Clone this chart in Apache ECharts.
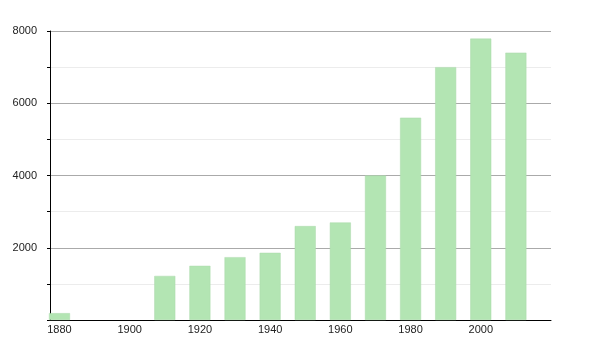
<!DOCTYPE html>
<html><head><meta charset="utf-8">
<script src="https://cdn.jsdelivr.net/npm/echarts@6/dist/echarts.min.js"></script>
<style>html,body{margin:0;padding:0;background:#fff}#c{width:600px;height:350px}</style>
</head><body><div id="c"></div>
<script>
var years = [1880, 1910, 1920, 1930, 1940, 1950, 1960, 1970, 1980, 1990, 2000, 2010];
var population = [190, 1220, 1500, 1740, 1860, 2600, 2700, 4000, 5600, 7000, 7790, 7400];
var xTickLabels = [1880, 1900, 1920, 1940, 1960, 1980, 2000];
var yTickLabels = [2000, 4000, 6000, 8000];

var chart = echarts.init(document.getElementById('c'), null, {renderer: 'canvas'});
chart.setOption({
  animation: false,
  grid: {left: 50, right: 49, top: 31, bottom: 30, containLabel: false},
  xAxis: {
    type: 'value', min: 1877.3, max: 2020,
    axisLine: {show: true, lineStyle: {color: '#000', width: 1}},
    axisTick: {show: false},
    splitLine: {show: false},
    axisLabel: {
      customValues: xTickLabels,
      color: '#222', fontSize: 11, fontFamily: 'Liberation Sans, Arial', margin: 4,
      formatter: function (v) { return String(Math.round(v)); }
    }
  },
  yAxis: {
    type: 'value', min: 0, max: 8000, interval: 1000,
    axisLine: {show: true, lineStyle: {color: '#000', width: 1}},
    axisTick: {show: true, length: 3, lineStyle: {color: '#000'}},
    splitLine: {show: true, lineStyle: {color: ['#aaa', '#ececec'], width: 1}},
    axisLabel: {
      color: '#222', fontSize: 11, fontFamily: 'Liberation Sans, Arial', margin: 13,
      formatter: function (v) { return yTickLabels.indexOf(v) >= 0 ? String(v) : ''; }
    }
  },
  series: [{
    type: 'bar',
    barWidth: 21,
    data: years.map(function (y, i) { return [y, population[i]]; }),
    itemStyle: {color: '#b3e5b3', borderColor: '#abd9ab', borderWidth: 0.5},
    clip: true
  }]
});
</script></body></html>
